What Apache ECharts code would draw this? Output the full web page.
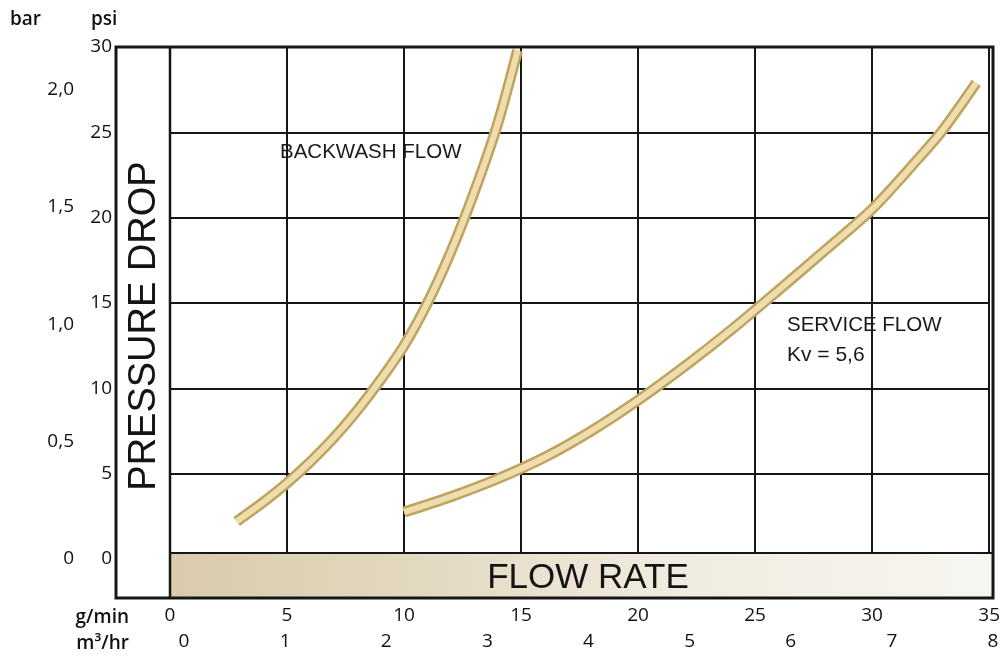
<!DOCTYPE html>
<html>
<head>
<meta charset="utf-8">
<script src="https://cdn.jsdelivr.net/npm/echarts@6/dist/echarts.min.js"></script>
<style>
html,body{margin:0;padding:0;background:#fff;}
#chart{width:1003px;height:658px;}
</style>
</head>
<body>
<div id="chart"></div>
<script>
// Flow rate (g/min) vs pressure drop (psi)
var backwashFlow = [[2.85,2.2],[3,2.35],[4,3.35],[5,4.45],[6,5.7],[7,7.1],[8,8.7],[9,10.5],[10,12.5],[11,15.0],[12,18.0],[13,21.5],[14,25.5],[14.85,29.8]];
var serviceFlow = [[10.0,2.75],[12,3.65],[14,4.7],[16,5.95],[18,7.5],[20,9.3],[22,11.3],[24,13.45],[26,15.75],[28,18.1],[30,20.5],[32,23.5],[33,25.1],[34.45,27.9]];
var gpmRange = [0, 35, 5];     // min, max, step
var m3hRange = [0, 8, 1];
var psiRange = [0, 30, 5];
var barRange = [0, 2.18, 0.5];
var barTickLabels = ['0', '0,5', '1,0', '1,5', '2,0'];

var tickFont = {fontFamily: 'Open Sans', fontSize: 19, color: '#111111'};
var gridColor = '#161616';

var chart = echarts.init(document.getElementById('chart'));

function curveSeries(data) {
  return [{
    type: 'line', data: data, smooth: 0.3, symbol: 'none', xAxisIndex: 0, yAxisIndex: 0, z: 3,
    lineStyle: {width: 11, color: '#bfa45e', cap: 'butt'}
  }, {
    type: 'line', data: data, smooth: 0.3, symbol: 'none', xAxisIndex: 0, yAxisIndex: 0, z: 4,
    lineStyle: {width: 6, color: '#efddb0', cap: 'butt'}
  }];
}

var option = {
  animation: false,
  backgroundColor: '#ffffff',
  grid: [
    {left: 170, right: 10, top: 47, bottom: 99, show: false},
    {left: 184, right: 10, top: 47, bottom: 99, show: false}
  ],
  xAxis: [{
    gridIndex: 0, type: 'value', min: gpmRange[0], max: gpmRange[1], interval: gpmRange[2],
    axisLine: {show: false}, axisTick: {show: false},
    splitLine: {show: true, lineStyle: {color: gridColor, width: 2}},
    axisLabel: Object.assign({margin: 47}, tickFont)
  }, {
    gridIndex: 1, type: 'value', min: m3hRange[0], max: m3hRange[1], interval: m3hRange[2],
    axisLine: {show: false}, axisTick: {show: false}, splitLine: {show: false},
    axisLabel: Object.assign({margin: 73}, tickFont)
  }],
  yAxis: [{
    gridIndex: 0, type: 'value', min: psiRange[0], max: psiRange[1], interval: psiRange[2],
    axisLine: {show: false}, axisTick: {show: false},
    splitLine: {show: true, lineStyle: {color: gridColor, width: 2}},
    axisLabel: Object.assign({margin: 58}, tickFont)
  }, {
    gridIndex: 0, type: 'value', position: 'left', min: barRange[0], max: barRange[1], interval: barRange[2],
    axisLine: {show: false}, axisTick: {show: false}, splitLine: {show: false},
    axisLabel: Object.assign({
      margin: 96, showMaxLabel: false,
      formatter: function (v) {
        var i = Math.round(v / barRange[2]);
        if (Math.abs(i * barRange[2] - v) > 1e-6) return '';
        return barTickLabels[i] || '';
      }
    }, tickFont)
  }, {
    gridIndex: 1, type: 'value', min: 0, max: 1, show: false,
    axisLine: {show: false}, axisTick: {show: false}, splitLine: {show: false}, axisLabel: {show: false}
  }],
  series: [].concat(curveSeries(backwashFlow), curveSeries(serviceFlow)),
  graphic: [
    {type: 'rect', z: 20, shape: {x: 170, y: 553, width: 823, height: 45},
     style: {fill: new echarts.graphic.LinearGradient(0, 0, 1, 0, [
        {offset: 0, color: '#d9cbab'}, {offset: 0.3, color: '#e3d8c0'},
        {offset: 0.6, color: '#f0ebdf'}, {offset: 1, color: '#f8f6f1'}]),
       stroke: gridColor, lineWidth: 2}},
    {type: 'rect', z: 21, shape: {x: 116, y: 47, width: 877, height: 551},
     style: {fill: null, stroke: gridColor, lineWidth: 3}},
    {type: 'line', z: 21, shape: {x1: 170, y1: 47, x2: 170, y2: 598},
     style: {stroke: gridColor, lineWidth: 2.5}},
    {type: 'text', z: 22, x: 588, y: 578,
     style: {text: 'FLOW RATE', fontFamily: 'Liberation Sans', fontSize: 35, fill: '#141414',
             textAlign: 'center', textVerticalAlign: 'middle'}},
    {type: 'text', z: 22, x: 145, y: 326, rotation: Math.PI / 2,
     style: {text: 'PRESSURE DROP', fontFamily: 'Liberation Sans', fontSize: 38, fill: '#141414',
             textAlign: 'center', textVerticalAlign: 'middle'}},
    {type: 'text', z: 22, x: 280, y: 152,
     style: {text: 'BACKWASH FLOW', fontFamily: 'Liberation Sans', fontSize: 20.5, fill: '#1a1a1a',
             textAlign: 'left', textVerticalAlign: 'middle'}},
    {type: 'text', z: 22, x: 787, y: 325,
     style: {text: 'SERVICE FLOW', fontFamily: 'Liberation Sans', fontSize: 20.5, fill: '#1a1a1a',
             textAlign: 'left', textVerticalAlign: 'middle'}},
    {type: 'text', z: 22, x: 787, y: 355,
     style: {text: 'Kv = 5,6', fontFamily: 'Liberation Sans', fontSize: 21, fill: '#1a1a1a',
             textAlign: 'left', textVerticalAlign: 'middle'}},
    {type: 'text', z: 22, x: 10, y: 20,
     style: {text: 'bar', fontFamily: 'Open Sans', fontSize: 19, fontWeight: 600, fill: '#111',
             textAlign: 'left', textVerticalAlign: 'middle'}},
    {type: 'text', z: 22, x: 91, y: 20,
     style: {text: 'psi', fontFamily: 'Open Sans', fontSize: 19, fontWeight: 600, fill: '#111',
             textAlign: 'left', textVerticalAlign: 'middle'}},
    {type: 'text', z: 22, x: 129, y: 618,
     style: {text: 'g/min', fontFamily: 'Open Sans', fontSize: 19, fontWeight: 600, fill: '#111',
             textAlign: 'right', textVerticalAlign: 'middle'}},
    {type: 'text', z: 22, x: 129, y: 644,
     style: {text: 'm³/hr', fontFamily: 'Open Sans', fontSize: 19, fontWeight: 600, fill: '#111',
             textAlign: 'right', textVerticalAlign: 'middle'}}
  ]
};
chart.setOption(option);
</script>
</body>
</html>
